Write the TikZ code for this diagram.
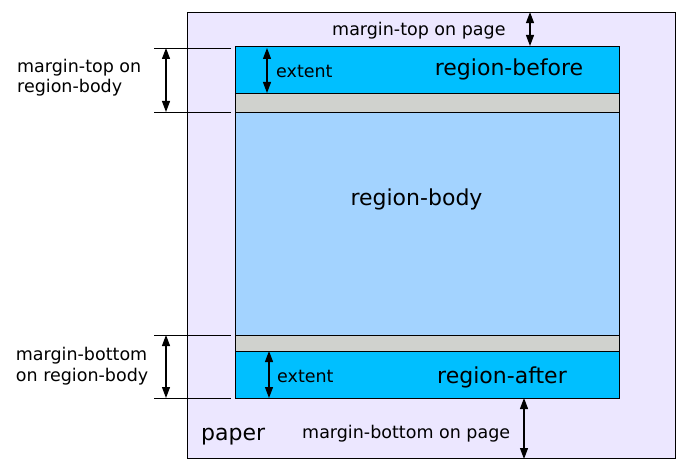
\documentclass[tikz,border=0pt]{standalone}
\usepackage{fontspec}
\setmainfont{DejaVu Sans}
\usetikzlibrary{positioning,calc,arrows.meta}
\definecolor{paperfill}{HTML}{ECE7FF}
\definecolor{outerfill}{HTML}{00BFFF}
\definecolor{gapfill}{HTML}{D0D2CE}
\definecolor{bodyfill}{HTML}{A3D3FF}
\begin{document}
\begin{tikzpicture}[x=1pt,y=1pt,
        block/.style={minimum width=384pt,outer sep=0pt,inner sep=0pt,draw,rectangle,node distance=0pt,line width=0.9pt},
        small/.style={inner sep=0pt,font=\fontsize{17.5}{20.5}\selectfont},
        big/.style={inner sep=0pt,font=\fontsize{22}{26}\selectfont},
        dim/.style={line width=1.2pt,{Triangle[width=8pt,length=11pt]}-{Triangle[width=8pt,length=11pt]}},
        ext/.style={line width=0.9pt}]
   \useasboundingbox (0,0) rectangle (687,474);
   \node (paper) [draw,line width=0.9pt,fill=paperfill,minimum width=488pt,minimum height=446pt,anchor=south west,inner sep=0pt] at (187,15) {};
   \node (before) [block,fill=outerfill,minimum height=47pt,anchor=north west] at (235,428) {};
   \node (gapA) [block,fill=gapfill,minimum height=19pt,below=of before] {};
   \node (body) [block,fill=bodyfill,minimum height=223pt,below=of gapA] {};
   \node (gapB) [block,fill=gapfill,minimum height=16pt,below=of body] {};
   \node (after) [block,fill=outerfill,minimum height=47pt,below=of gapB] {};

   \node (Lbefore) [big,anchor=base] at (509,398) {region-before};
   \node (Lbody) [big,anchor=base] at (416.5,268) {region-body};
   \node (Lafter) [big,anchor=base] at (502,90.7) {region-after};
   \node (Lpaper) [big,anchor=base west] at (201,33.3) {paper};
   \node (Lexttop) [small,anchor=base west] at (276,396.7) {extent};
   \node (Lextbot) [small,anchor=base west] at (277,91.3) {extent};
   \node (Lmtp) [small,anchor=base west] at (332,438) {margin-top on page};
   \node (Lmbp) [small,anchor=base west] at (302,35.7) {margin-bottom on page};
   \node (Lmtb) [small,align=left,anchor=base west] at (17,381) {margin-top on\\region-body};
   \node (Lmbb) [small,align=left,anchor=base west] at (15.7,93) {margin-bottom\\on region-body};

   \coordinate (xmtp) at (530,0);
   \coordinate (xmbp) at (524,0);
   \coordinate (xexttop) at (267,0);
   \coordinate (xextbot) at (269,0);
   \coordinate (xleft) at (166,0);

   \draw[ext] ([xshift=-4pt,yshift=-2pt]before.north west) -- ([xshift=-81pt,yshift=-2pt]before.north west);
   \draw[ext] ([xshift=-4pt]body.north west) -- ([xshift=-81pt]body.north west);
   \draw[ext] ([xshift=-4pt]body.south west) -- ([xshift=-81pt]body.south west);
   \draw[ext] ([xshift=-4pt]after.south west) -- ([xshift=-81pt]after.south west);

   \draw[dim] (paper.north -| xmtp) -- (before.north -| xmtp);
   \draw[dim] (after.south -| xmbp) -- (paper.south -| xmbp);
   \draw[dim] ([yshift=-2pt]before.north -| xexttop) -- (before.south -| xexttop);
   \draw[dim] (after.north -| xextbot) -- (after.south -| xextbot);
   \draw[dim] ([yshift=-2pt]before.north -| xleft) -- (body.north -| xleft);
   \draw[dim] (body.south -| xleft) -- (after.south -| xleft);

\end{tikzpicture}
\end{document}
